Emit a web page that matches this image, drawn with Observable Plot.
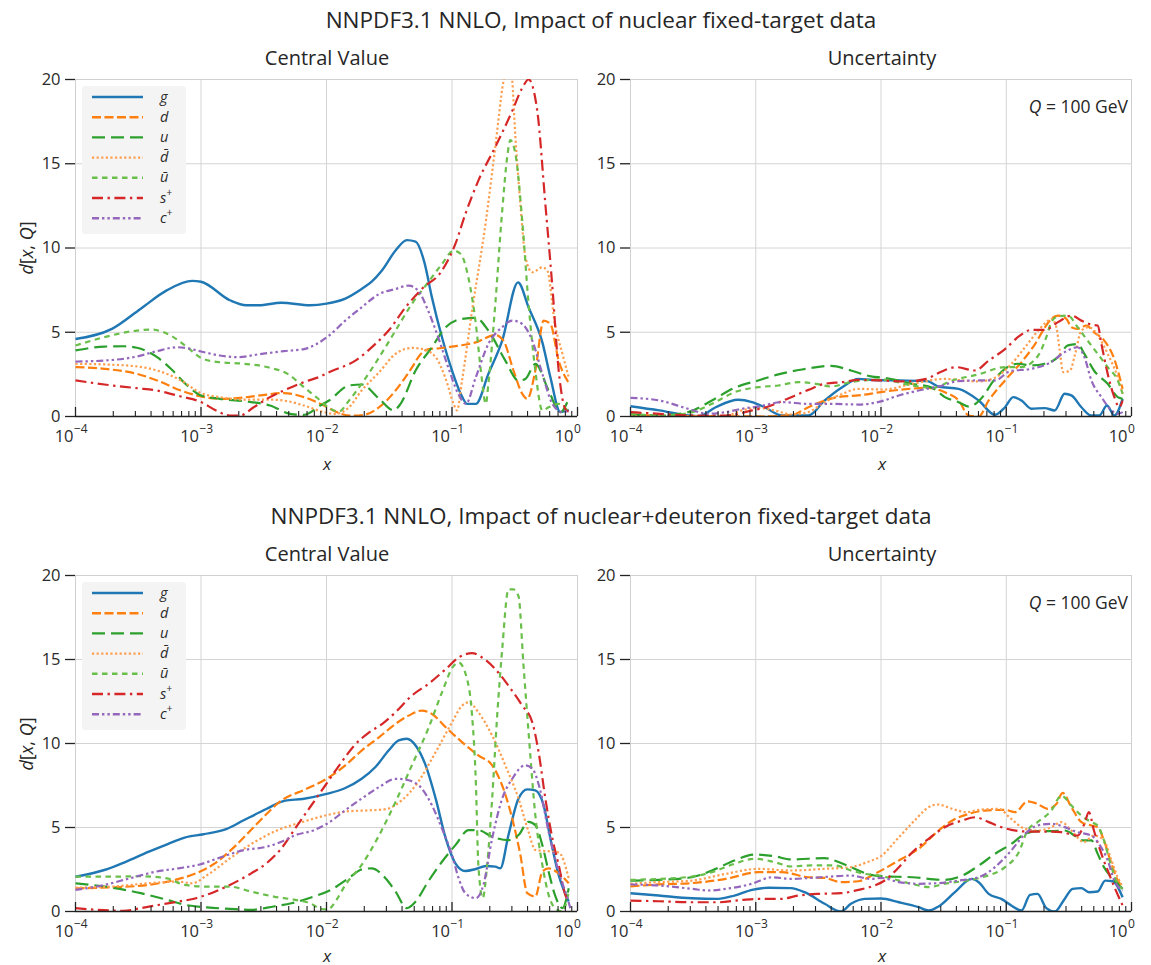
<!DOCTYPE html>
<html><head><meta charset="utf-8">
<script src="https://cdn.jsdelivr.net/npm/d3@7"></script>
<script src="https://cdn.jsdelivr.net/npm/@observablehq/plot@0.6"></script>
<style>
body{margin:0;background:#fff;}
#fig{position:relative;width:1151px;height:965px;font-family:"Open Sans","DejaVu Sans",sans-serif;color:#262626;overflow:hidden;background:#fff}
.abs{position:absolute;white-space:nowrap;transform:translate(-50%,-50%);line-height:1}
.title{font-size:22.5px}
.sub{font-size:20px}
.xl{font-size:17px;font-style:italic}
.yl{font-size:18px;transform:translate(-50%,-50%) rotate(-90deg)}
.q{position:absolute;font-size:17.5px;white-space:nowrap;transform:translate(-100%,-50%);line-height:1}
.pl{position:absolute}
.leg{position:absolute;overflow:visible}
</style>
</head><body>
<div id="fig"></div>
<script>
// ---------- tick labels / categories ----------
const MAJOR = [1e-4, 1e-3, 1e-2, 1e-1, 1];
const MAJOR_EXP = ["−4", "−3", "−2", "−1", "0"];
const MINOR = [];
for (const e of [-4, -3, -2, -1]) for (let m = 2; m <= 9; m++) MINOR.push(m * 10 ** e);
const YTICKS = [0, 5, 10, 15, 20];
const SERIES = ["g", "d", "u", "dbar", "ubar", "splus", "cplus"];
const COLORS = ["#1f77b4", "#ff7f0e", "#2ca02c", "#fd9f4f", "#6abf4b", "#d62728", "#9467bd"];
const DASHES = [null, "9,3.5", "13,6", "2.2,2.4", "5.5,4.5", "11,4.5,2.4,4.5", "7,3,2.4,3,2.4,3"];
const WIDTHS = [2.4, 2.2, 2.2, 2.2, 2.2, 2.2, 2.2];

// ---------- data: [log10 x, d[x,Q]] ----------
// Panel 1: nuclear, central value
const nucCV_g = [[-4,4.6],[-3.71,5.2],[-3.48,6.4],[-3.27,7.5],[-3.07,8.05],[-3.0,8.0],[-2.77,6.9],[-2.64,6.6],[-2.54,6.6],[-2.36,6.75],[-2.13,6.6],[-2.0,6.7],[-1.85,7.0],[-1.72,7.57],[-1.64,8.0],[-1.56,8.65],[-1.45,9.85],[-1.36,10.47],[-1.29,10.38],[-1.22,9.15],[-1.16,7.07],[-1.08,4.7],[-1.0,2.73],[-0.93,1.34],[-0.88,0.75],[-0.81,0.75],[-0.71,2.53],[-0.6,4.5],[-0.474,7.96],[-0.39,6.48],[-0.28,4.4],[-0.216,2.33],[-0.137,0.26],[-0.07,0.4]];
const nucCV_d = [[-4,2.93],[-3.77,2.83],[-3.51,2.53],[-3.35,2.14],[-3.16,1.54],[-3.0,1.19],[-2.85,1.05],[-2.71,1.09],[-2.53,1.25],[-2.34,1.39],[-2.18,1.15],[-2.02,0.65],[-1.9,0.2],[-1.8,0.05],[-1.7,0.1],[-1.58,0.55],[-1.45,1.54],[-1.32,2.9],[-1.25,3.7],[-1.19,3.99],[-1.1,4.05],[-1.0,4.15],[-0.81,4.4],[-0.655,4.84],[-0.59,4.5],[-0.51,2.73],[-0.44,1.34],[-0.4,1.05],[-0.336,2.73],[-0.27,5.69],[-0.216,5.49],[-0.15,3.32],[-0.07,2.0]];
const nucCV_u = [[-4,3.92],[-3.77,4.15],[-3.615,4.17],[-3.51,4.08],[-3.35,3.52],[-3.24,2.83],[-3.11,1.84],[-3.0,1.25],[-2.85,1.05],[-2.66,0.91],[-2.45,0.65],[-2.29,0.16],[-2.18,0.1],[-2.05,0.65],[-1.98,0.95],[-1.82,1.84],[-1.72,1.9],[-1.58,1.05],[-1.465,0.36],[-1.41,0.75],[-1.29,2.73],[-1.16,4.11],[-1.05,5.3],[-0.92,5.79],[-0.81,5.85],[-0.71,5.1],[-0.575,3.32],[-0.47,2.13],[-0.415,2.23],[-0.336,3.12],[-0.23,1.54],[-0.137,0.26],[-0.07,1.05]];
const nucCV_dbar = [[-4,3.13],[-3.77,3.09],[-3.51,2.97],[-3.35,2.73],[-3.16,2.14],[-3.0,1.39],[-2.85,1.15],[-2.66,1.0],[-2.45,1.0],[-2.31,0.91],[-2.18,0.65],[-2.02,0.26],[-1.93,0.15],[-1.82,0.55],[-1.72,1.54],[-1.58,2.63],[-1.45,3.72],[-1.32,4.07],[-1.24,4.01],[-1.13,3.52],[-1.05,2.23],[-0.987,0.75],[-0.96,0.36],[-0.92,2.13],[-0.84,6.28],[-0.73,11.6],[-0.655,16.0],[-0.59,19.9],[-0.555,21.0],[-0.527,20.5],[-0.495,16.6],[-0.455,12.6],[-0.415,9.45],[-0.36,8.56],[-0.28,8.85],[-0.24,8.65],[-0.18,5.5],[-0.12,3.72],[-0.07,2.33]];
const nucCV_ubar = [[-4,4.21],[-3.77,4.71],[-3.51,5.1],[-3.4,5.16],[-3.24,4.8],[-3.11,4.11],[-3.0,3.48],[-2.85,3.22],[-2.66,3.13],[-2.45,2.89],[-2.31,2.53],[-2.18,1.74],[-2.05,0.95],[-1.98,0.5],[-1.9,0.3],[-1.82,0.95],[-1.72,1.94],[-1.58,3.52],[-1.45,5.1],[-1.32,6.68],[-1.19,7.96],[-1.08,9.05],[-0.987,9.84],[-0.93,9.64],[-0.87,8.26],[-0.81,5.49],[-0.77,2.73],[-0.73,0.75],[-0.71,1.94],[-0.655,6.68],[-0.6,12.2],[-0.56,15.4],[-0.535,16.4],[-0.495,15.6],[-0.44,11.6],[-0.39,6.68],[-0.336,2.73],[-0.28,0.36],[-0.23,0.55],[-0.15,0.75],[-0.07,0.26]];
const nucCV_splus = [[-4,2.14],[-3.77,1.9],[-3.51,1.68],[-3.35,1.54],[-3.16,1.19],[-3.0,0.86],[-2.88,0.36],[-2.77,0.06],[-2.69,0.06],[-2.58,0.55],[-2.45,1.15],[-2.31,1.64],[-2.18,2.04],[-2.05,2.37],[-1.98,2.63],[-1.77,3.32],[-1.61,4.31],[-1.505,5.1],[-1.37,6.48],[-1.24,7.57],[-1.08,8.66],[-0.973,10.24],[-0.894,12.0],[-0.79,14.0],[-0.655,16.0],[-0.522,18.1],[-0.44,19.5],[-0.39,20.0],[-0.32,18.1],[-0.256,12.6],[-0.2,7.67],[-0.15,2.73],[-0.09,0.36],[-0.07,0.3]];
const nucCV_cplus = [[-4,3.26],[-3.77,3.32],[-3.51,3.56],[-3.35,3.88],[-3.19,4.11],[-3.11,4.05],[-3.0,3.86],[-2.85,3.62],[-2.71,3.52],[-2.55,3.68],[-2.34,3.88],[-2.18,4.0],[-1.98,4.8],[-1.85,5.69],[-1.72,6.48],[-1.58,7.27],[-1.45,7.57],[-1.345,7.77],[-1.27,7.47],[-1.19,6.28],[-1.11,4.7],[-1.03,2.92],[-0.95,1.34],[-0.89,0.75],[-0.81,2.33],[-0.71,4.31],[-0.6,5.3],[-0.52,5.69],[-0.44,5.49],[-0.36,4.5],[-0.28,2.53],[-0.2,0.75],[-0.12,0.26],[-0.07,0.36]];

// Panel 2: nuclear, uncertainty
const nucUnc_g = [[-4,0.61],[-3.77,0.36],[-3.54,0.06],[-3.455,0.02],[-3.32,0.55],[-3.14,0.99],[-3.03,0.85],[-2.93,0.55],[-2.79,0.06],[-2.58,0.06],[-2.45,0.95],[-2.31,1.74],[-2.18,2.23],[-2.07,2.17],[-1.857,2.14],[-1.63,2.1],[-1.54,1.78],[-1.38,1.64],[-1.22,0.95],[-1.09,0.1],[-1.01,0.55],[-0.944,1.15],[-0.878,0.95],[-0.8,0.46],[-0.693,0.5],[-0.613,0.36],[-0.534,1.35],[-0.48,1.25],[-0.4,0.55],[-0.323,0.06],[-0.257,0.06],[-0.196,0.65],[-0.137,0.06],[-0.071,1.05]];
const nucUnc_d = [[-4,0.12],[-3.7,0.03],[-3.3,0.02],[-2.93,0.0],[-2.71,0.1],[-2.58,0.55],[-2.45,0.95],[-2.35,1.15],[-2.18,1.25],[-2.0,1.45],[-1.857,1.58],[-1.62,1.7],[-1.49,1.44],[-1.38,0.95],[-1.3,0.06],[-1.22,0.0],[-1.14,0.95],[-1.01,2.14],[-0.878,3.23],[-0.77,4.3],[-0.69,5.3],[-0.64,5.8],[-0.587,5.99],[-0.52,5.8],[-0.48,5.3],[-0.43,5.2],[-0.36,5.4],[-0.3,5.0],[-0.217,4.5],[-0.137,3.4],[-0.071,1.64]];
const nucUnc_u = [[-4,0.12],[-3.77,0.06],[-3.54,0.26],[-3.35,0.95],[-3.17,1.7],[-2.98,2.14],[-2.82,2.5],[-2.63,2.79],[-2.4,3.01],[-2.24,2.73],[-2.08,2.38],[-1.98,2.3],[-1.75,1.94],[-1.59,1.7],[-1.49,1.15],[-1.38,0.85],[-1.3,0.59],[-1.19,1.15],[-1.11,2.04],[-1.01,2.83],[-0.905,3.13],[-0.8,3.03],[-0.693,3.13],[-0.587,3.52],[-0.508,4.22],[-0.43,4.3],[-0.376,3.72],[-0.3,2.73],[-0.19,1.94],[-0.11,1.15],[-0.071,1.05]];
const nucUnc_dbar = [[-4,0.02],[-3.5,0.02],[-3.24,0.05],[-3.11,0.36],[-2.98,0.52],[-2.85,0.36],[-2.71,0.12],[-2.58,0.26],[-2.45,0.85],[-2.31,1.34],[-2.18,1.64],[-1.98,1.6],[-1.75,1.94],[-1.49,2.23],[-1.35,2.14],[-1.22,2.08],[-1.09,2.3],[-0.97,3.03],[-0.85,4.11],[-0.745,5.1],[-0.68,5.6],[-0.64,5.8],[-0.6,5.3],[-0.573,3.92],[-0.546,2.63],[-0.49,2.73],[-0.45,3.72],[-0.4,5.1],[-0.34,5.3],[-0.26,4.71],[-0.19,3.72],[-0.11,2.33],[-0.07,1.35]];
const nucUnc_ubar = [[-4,0.16],[-3.77,0.06],[-3.54,0.2],[-3.35,0.75],[-3.17,1.44],[-2.98,1.74],[-2.82,1.84],[-2.66,2.04],[-2.52,1.94],[-2.4,1.78],[-2.24,2.04],[-2.0,2.2],[-1.75,1.84],[-1.59,1.7],[-1.43,2.14],[-1.22,2.5],[-1.01,2.93],[-0.88,2.93],[-0.745,3.62],[-0.68,4.71],[-0.64,5.6],[-0.587,5.94],[-0.508,5.99],[-0.43,5.3],[-0.35,4.5],[-0.27,3.72],[-0.19,2.93],[-0.11,2.14],[-0.071,1.35]];
const nucUnc_splus = [[-4,0.26],[-3.77,0.16],[-3.5,0.06],[-3.24,0.06],[-3.03,0.36],[-2.9,0.59],[-2.78,0.95],[-2.58,1.58],[-2.45,1.94],[-2.31,2.04],[-2.18,2.17],[-2.0,2.14],[-1.8,2.08],[-1.64,2.23],[-1.51,2.69],[-1.4,2.93],[-1.25,2.73],[-1.14,3.32],[-1.01,4.0],[-0.9,4.75],[-0.8,5.14],[-0.69,5.14],[-0.587,5.6],[-0.48,5.99],[-0.4,5.69],[-0.32,5.45],[-0.27,5.4],[-0.24,4.3],[-0.19,2.53],[-0.137,1.15],[-0.097,0.55],[-0.071,0.95]];
const nucUnc_cplus = [[-4,1.11],[-3.77,0.95],[-3.54,0.46],[-3.38,0.16],[-3.24,0.26],[-3.11,0.46],[-2.98,0.59],[-2.79,0.85],[-2.58,0.75],[-2.4,0.75],[-2.18,0.71],[-2.0,0.9],[-1.857,1.25],[-1.7,1.54],[-1.54,1.78],[-1.38,2.1],[-1.22,2.14],[-1.09,2.14],[-0.97,2.69],[-0.8,2.83],[-0.64,3.23],[-0.534,3.82],[-0.43,4.11],[-0.376,3.52],[-0.32,2.14],[-0.24,1.15],[-0.16,0.36],[-0.11,0.16],[-0.07,0.26]];

// Panel 3: nuclear+deuteron, central value
const deuCV_g = [[-4,2.07],[-3.77,2.47],[-3.6,2.96],[-3.42,3.55],[-3.27,4.0],[-3.13,4.4],[-2.98,4.6],[-2.8,4.9],[-2.66,5.43],[-2.48,6.1],[-2.33,6.6],[-2.19,6.7],[-2.0,7.0],[-1.85,7.35],[-1.72,7.9],[-1.61,8.6],[-1.505,9.58],[-1.425,10.18],[-1.36,10.28],[-1.29,9.88],[-1.21,8.7],[-1.13,6.72],[-1.05,4.35],[-0.973,2.87],[-0.894,2.41],[-0.81,2.53],[-0.73,2.71],[-0.655,2.67],[-0.615,2.57],[-0.55,4.55],[-0.47,6.72],[-0.4,7.27],[-0.336,7.21],[-0.27,6.32],[-0.216,4.35],[-0.15,2.17],[-0.07,0.59]];
const deuCV_d = [[-4,1.38],[-3.71,1.44],[-3.42,1.58],[-3.21,1.88],[-3.04,2.27],[-2.89,2.86],[-2.72,3.95],[-2.54,5.33],[-2.36,6.6],[-2.16,7.3],[-2.0,7.9],[-1.85,8.7],[-1.72,9.58],[-1.58,10.38],[-1.45,11.17],[-1.345,11.66],[-1.24,11.96],[-1.16,11.76],[-1.05,10.97],[-0.92,10.08],[-0.79,9.29],[-0.68,8.7],[-0.6,7.5],[-0.52,5.53],[-0.455,3.36],[-0.4,1.09],[-0.336,0.89],[-0.28,2.37],[-0.23,2.57],[-0.15,2.27],[-0.07,1.68]];
const deuCV_u = [[-4,1.68],[-3.71,1.42],[-3.48,1.09],[-3.27,0.69],[-3.13,0.4],[-2.95,0.24],[-2.77,0.16],[-2.6,0.1],[-2.42,0.3],[-2.28,0.49],[-2.1,0.89],[-1.95,1.35],[-1.82,2.0],[-1.72,2.5],[-1.64,2.57],[-1.53,1.98],[-1.45,1.19],[-1.36,0.2],[-1.29,0.59],[-1.19,1.78],[-1.08,2.96],[-0.973,3.95],[-0.867,4.84],[-0.79,4.84],[-0.68,4.45],[-0.55,4.25],[-0.47,4.55],[-0.39,5.34],[-0.336,5.14],[-0.28,3.95],[-0.23,2.37],[-0.18,0.99],[-0.12,0.2],[-0.07,1.38]];
const deuCV_dbar = [[-4,1.42],[-3.71,1.48],[-3.42,1.68],[-3.18,1.78],[-3.07,1.68],[-2.95,2.17],[-2.77,3.16],[-2.57,4.15],[-2.39,4.84],[-2.19,5.33],[-2.0,5.73],[-1.82,5.97],[-1.66,6.02],[-1.53,6.09],[-1.4,6.62],[-1.27,7.71],[-1.13,9.49],[-1.0,11.26],[-0.92,12.25],[-0.867,12.45],[-0.79,11.86],[-0.68,10.47],[-0.575,8.7],[-0.47,6.72],[-0.39,4.74],[-0.336,3.66],[-0.256,3.6],[-0.15,3.52],[-0.07,1.98]];
const deuCV_ubar = [[-4,2.07],[-3.71,2.07],[-3.48,2.1],[-3.27,1.97],[-3.13,1.58],[-2.95,1.48],[-2.77,1.48],[-2.6,1.18],[-2.42,0.89],[-2.25,0.69],[-2.13,0.49],[-2.04,0.15],[-1.99,0.12],[-1.92,0.7],[-1.85,1.58],[-1.72,2.77],[-1.58,4.55],[-1.45,6.52],[-1.32,8.7],[-1.19,10.87],[-1.08,13.04],[-0.987,14.62],[-0.947,14.82],[-0.88,13.83],[-0.84,11.66],[-0.81,7.71],[-0.79,2.77],[-0.755,0.79],[-0.72,2.77],[-0.68,6.72],[-0.64,11.66],[-0.6,15.61],[-0.55,19.17],[-0.51,19.17],[-0.47,18.77],[-0.43,14.62],[-0.39,10.67],[-0.336,5.73],[-0.28,2.77],[-0.23,0.99],[-0.18,0.2],[-0.12,0.0],[-0.07,1.19]];
const deuCV_splus = [[-4,0.2],[-3.83,0.1],[-3.62,0.04],[-3.48,0.2],[-3.33,0.4],[-3.18,0.59],[-3.04,0.79],[-2.89,1.18],[-2.77,1.58],[-2.6,2.27],[-2.48,2.86],[-2.36,3.75],[-2.25,4.94],[-2.13,6.22],[-2.01,7.5],[-1.89,8.79],[-1.78,9.87],[-1.66,10.66],[-1.55,11.2],[-1.45,11.86],[-1.32,12.85],[-1.19,13.54],[-1.05,14.43],[-0.947,15.12],[-0.84,15.38],[-0.76,15.12],[-0.655,14.43],[-0.55,13.44],[-0.44,12.25],[-0.36,11.26],[-0.31,9.49],[-0.256,6.72],[-0.2,4.35],[-0.15,2.77],[-0.097,0.99],[-0.07,0.59]];
const deuCV_cplus = [[-4,1.28],[-3.77,1.58],[-3.57,1.97],[-3.36,2.37],[-3.18,2.57],[-3.01,2.8],[-2.83,3.26],[-2.66,3.65],[-2.48,3.85],[-2.36,4.15],[-2.25,4.54],[-2.1,4.84],[-1.98,5.3],[-1.85,6.03],[-1.72,6.72],[-1.58,7.41],[-1.45,7.9],[-1.345,7.81],[-1.24,7.31],[-1.16,6.32],[-1.08,4.94],[-1.0,3.36],[-0.947,1.98],[-0.894,1.09],[-0.81,0.79],[-0.75,1.58],[-0.68,4.35],[-0.6,6.72],[-0.52,7.9],[-0.416,8.7],[-0.36,8.5],[-0.3,7.31],[-0.23,4.74],[-0.15,2.37],[-0.08,0.79],[-0.057,0.2]];

// Panel 4: nuclear+deuteron, uncertainty
const deuUnc_g = [[-4,1.09],[-3.775,0.95],[-3.51,0.79],[-3.3,0.75],[-3.17,0.95],[-3.03,1.29],[-2.9,1.41],[-2.72,1.39],[-2.61,1.15],[-2.45,0.46],[-2.32,0.0],[-2.24,0.46],[-2.13,0.75],[-2.0,0.77],[-1.857,0.55],[-1.7,0.26],[-1.62,0.06],[-1.54,0.3],[-1.41,1.15],[-1.276,1.94],[-1.22,1.74],[-1.14,1.05],[-1.04,0.75],[-0.96,0.36],[-0.878,0.06],[-0.81,0.99],[-0.75,1.05],[-0.68,0.2],[-0.613,0.0],[-0.534,0.75],[-0.47,1.35],[-0.4,1.39],[-0.34,1.15],[-0.27,1.19],[-0.21,1.84],[-0.15,1.8],[-0.071,0.85]];
const deuUnc_d = [[-4,1.49],[-3.775,1.61],[-3.51,1.69],[-3.24,1.94],[-2.98,2.34],[-2.79,2.34],[-2.58,2.04],[-2.45,2.0],[-2.32,1.75],[-2.18,1.8],[-2.05,2.24],[-1.857,3.04],[-1.7,3.73],[-1.54,4.82],[-1.43,5.42],[-1.3,5.81],[-1.17,6.01],[-1.01,6.05],[-0.93,5.91],[-0.83,6.56],[-0.75,6.4],[-0.67,6.11],[-0.6,6.4],[-0.55,7.06],[-0.48,6.21],[-0.4,5.32],[-0.32,5.12],[-0.27,5.02],[-0.22,4.23],[-0.16,2.84],[-0.11,1.86],[-0.071,1.46]];
const deuUnc_u = [[-4,1.84],[-3.775,1.88],[-3.51,2.04],[-3.35,2.44],[-3.17,3.04],[-3.01,3.39],[-2.85,3.29],[-2.72,3.1],[-2.58,3.14],[-2.45,3.18],[-2.35,2.98],[-2.24,2.64],[-2.13,2.29],[-2.0,2.1],[-1.75,2.04],[-1.49,1.88],[-1.35,2.14],[-1.22,2.73],[-1.09,3.43],[-0.96,4.02],[-0.85,4.62],[-0.75,4.78],[-0.64,4.78],[-0.534,4.82],[-0.455,4.52],[-0.4,4.23],[-0.32,4.23],[-0.27,3.43],[-0.22,2.64],[-0.16,2.04],[-0.11,1.65],[-0.071,1.35]];
const deuUnc_dbar = [[-4,1.65],[-3.775,1.75],[-3.51,1.84],[-3.24,2.24],[-2.98,2.54],[-2.72,2.44],[-2.45,2.54],[-2.24,2.64],[-2.11,2.94],[-2.0,3.3],[-1.857,4.42],[-1.72,5.51],[-1.62,6.21],[-1.55,6.37],[-1.43,6.11],[-1.32,5.91],[-1.22,6.05],[-1.06,6.11],[-0.96,5.51],[-0.85,4.92],[-0.75,4.82],[-0.64,5.02],[-0.56,5.32],[-0.48,4.82],[-0.38,4.13],[-0.3,4.52],[-0.22,4.23],[-0.16,3.04],[-0.11,2.04],[-0.071,1.46]];
const deuUnc_ubar = [[-4,1.88],[-3.775,1.94],[-3.51,2.08],[-3.35,2.34],[-3.17,2.84],[-3.01,3.14],[-2.85,2.94],[-2.72,2.68],[-2.56,2.74],[-2.37,2.74],[-2.24,2.44],[-2.13,2.24],[-2.0,2.12],[-1.857,1.84],[-1.7,1.55],[-1.62,1.45],[-1.49,1.65],[-1.32,1.84],[-1.17,2.08],[-1.01,2.64],[-0.9,3.53],[-0.83,4.82],[-0.75,5.32],[-0.64,6.01],[-0.56,6.9],[-0.48,6.31],[-0.4,5.71],[-0.32,5.32],[-0.27,5.12],[-0.22,4.23],[-0.16,2.64],[-0.11,1.65],[-0.071,1.35]];
const deuUnc_splus = [[-4,0.65],[-3.775,0.61],[-3.51,0.55],[-3.3,0.55],[-3.11,0.69],[-2.98,0.75],[-2.8,0.75],[-2.66,0.95],[-2.5,1.05],[-2.32,1.09],[-2.18,1.29],[-2.05,1.55],[-1.98,1.8],[-1.857,2.64],[-1.75,3.53],[-1.62,4.33],[-1.49,5.02],[-1.35,5.42],[-1.25,5.61],[-1.14,5.32],[-1.04,5.02],[-0.96,4.86],[-0.83,4.76],[-0.69,4.76],[-0.56,4.72],[-0.43,4.52],[-0.376,5.22],[-0.34,5.91],[-0.3,4.82],[-0.24,3.43],[-0.19,2.44],[-0.137,1.46],[-0.071,0.36]];
const deuUnc_cplus = [[-4,1.61],[-3.775,1.55],[-3.51,1.35],[-3.38,1.25],[-3.24,1.35],[-3.03,1.65],[-2.87,2.04],[-2.72,1.94],[-2.56,2.0],[-2.4,2.08],[-2.24,2.14],[-2.08,1.94],[-2.0,2.0],[-1.857,1.75],[-1.7,1.65],[-1.54,1.69],[-1.38,1.84],[-1.22,2.04],[-1.09,2.64],[-0.96,3.63],[-0.85,4.62],[-0.75,5.12],[-0.64,5.22],[-0.534,5.02],[-0.43,4.72],[-0.32,4.52],[-0.26,4.02],[-0.19,3.04],[-0.137,1.84],[-0.071,1.25]];

// ---------- texts ----------
const TITLES = ["NNPDF3.1 NNLO, Impact of nuclear fixed-target data", "NNPDF3.1 NNLO, Impact of nuclear+deuteron fixed-target data"];
const SUBTITLES = ["Central Value", "Uncertainty"];

// ---------- drawing ----------
const fig = document.getElementById("fig");
const FONT = "'Open Sans', 'DejaVu Sans', sans-serif";

function panel(seriesList, {left, top, width, height, mL, mR, mT, mB}) {
  const marks = [
    Plot.gridX(MAJOR, {stroke: "#d4d4d4", strokeOpacity: 1, strokeWidth: 1}),
    Plot.gridY(YTICKS.slice(1), {stroke: "#d4d4d4", strokeOpacity: 1, strokeWidth: 1}),
    Plot.frame({stroke: "#d0d0d0", strokeWidth: 1})
  ];
  seriesList.forEach((arr, i) => {
    marks.push(Plot.line(arr, {
      x: d => 10 ** d[0], y: d => d[1],
      stroke: COLORS[i], strokeWidth: WIDTHS[i], strokeDasharray: DASHES[i],
      strokeLinecap: "butt", strokeLinejoin: "round",
      curve: "monotone-x", clip: true
    }));
  });
  marks.push(
    Plot.ruleY([0], {stroke: "#1e1e1e", strokeWidth: 1.6}),
    Plot.axisY({ticks: YTICKS, tickSize: 10, tickPadding: 5, stroke: "#222", strokeWidth: 1.3, fontSize: 16.5}),
    Plot.axisX({ticks: MAJOR, tickSize: -9, tickFormat: () => "", stroke: "#222", strokeWidth: 1.3}),
    Plot.axisX({ticks: MINOR, tickSize: -5, tickFormat: () => "", stroke: "#222", strokeWidth: 1.1}),
    Plot.text(MAJOR.slice(0, 4), {x: d => d, frameAnchor: "bottom", lineAnchor: "middle", text: () => "10", textAnchor: "end", dx: -2, dy: 20, fontSize: 16.5}),
    Plot.text(MAJOR.slice(0, 4), {x: d => d, frameAnchor: "bottom", lineAnchor: "middle", text: (d, i) => MAJOR_EXP[i], textAnchor: "start", dx: -1.5, dy: 13, fontSize: 12}),
    Plot.text(MAJOR.slice(4), {x: d => d, frameAnchor: "bottom", lineAnchor: "middle", text: () => "10", textAnchor: "end", dx: -4, dy: 20, fontSize: 16.5}),
    Plot.text(MAJOR.slice(4), {x: d => d, frameAnchor: "bottom", lineAnchor: "middle", text: () => MAJOR_EXP[4], textAnchor: "start", dx: -3.5, dy: 13, fontSize: 12})
  );
  const svg = Plot.plot({
    width, height, marginLeft: mL, marginRight: mR, marginTop: mT, marginBottom: mB,
    x: {type: "log", domain: [1e-4, 1], label: null},
    y: {domain: [0, 20], label: null},
    style: {fontFamily: FONT, fontSize: "16px", color: "#2a2a2a", background: "transparent", overflow: "visible"},
    marks
  });
  svg.classList.add("pl");
  svg.style.left = left + "px";
  svg.style.top = top + "px";
  fig.appendChild(svg);
}

function addText(cls, html, x, y) {
  const d = document.createElement("div");
  d.className = cls === "q" ? "q" : "abs " + cls;
  d.innerHTML = html;
  d.style.left = x + "px";
  d.style.top = y + "px";
  fig.appendChild(d);
}

const LEG_LABELS = ["g", "d", "u", "d\u0304", "u\u0304", "s<tspan baseline-shift='super' font-size='10'>+</tspan>", "c<tspan baseline-shift='super' font-size='10'>+</tspan>"];
function legend(x, y) {
  const ns = "http://www.w3.org/2000/svg";
  let s = `<svg xmlns="${ns}" width="104" height="148" class="leg" style="left:${x}px;top:${y}px">`;
  s += `<rect x="0" y="0" width="104" height="148" rx="3" fill="#f4f4f4"/>`;
  LEG_LABELS.forEach((lab, i) => {
    const yy = 11 + i * 20.2;
    s += `<line x1="10" x2="61" y1="${yy}" y2="${yy}" stroke="${COLORS[i]}" stroke-width="${WIDTHS[i] + 0.2}" ${DASHES[i] ? `stroke-dasharray="${DASHES[i]}"` : ""}/>`;
    s += `<text x="78" y="${yy + 4.5}" font-family="${FONT.replace(/'/g, "")}" font-style="italic" font-size="14.5" fill="#2a2a2a">${lab}</text>`;
  });
  s += `</svg>`;
  const wrap = document.createElement("div");
  wrap.innerHTML = s;
  fig.appendChild(wrap.firstChild);
}

const rows = [
  {top: 40, height: 440, mB: 64, data: [
    [nucCV_g, nucCV_d, nucCV_u, nucCV_dbar, nucCV_ubar, nucCV_splus, nucCV_cplus],
    [nucUnc_g, nucUnc_d, nucUnc_u, nucUnc_dbar, nucUnc_ubar, nucUnc_splus, nucUnc_cplus]]},
  {top: 536, height: 429, mB: 54, data: [
    [deuCV_g, deuCV_d, deuCV_u, deuCV_dbar, deuCV_ubar, deuCV_splus, deuCV_cplus],
    [deuUnc_g, deuUnc_d, deuUnc_u, deuUnc_dbar, deuUnc_ubar, deuUnc_splus, deuUnc_cplus]]}
];

rows.forEach((r, ri) => {
  panel(r.data[0], {left: 0, top: r.top, width: 585, height: r.height, mL: 75, mR: 8, mT: 39, mB: r.mB});
  panel(r.data[1], {left: 585, top: r.top, width: 566, height: r.height, mL: 45, mR: 20, mT: 39, mB: r.mB});
  const off = ri * 496;
  addText("title", TITLES[ri], 601, 20 + off);
  addText("sub", SUBTITLES[0], 327, 58 + off);
  addText("sub", SUBTITLES[1], 882, 58 + off);
  addText("xl", "x", 327, ri ? 955 : 463);
  addText("xl", "x", 882, ri ? 955 : 463);
  addText("yl", "<i>d</i>[<i>x</i>, <i>Q</i>]", 26, 248 + off);
  addText("q", "<i>Q</i> = 100 GeV", 1128, 107 + off);
  legend(82, 86 + off);
});
</script>
</body></html>
